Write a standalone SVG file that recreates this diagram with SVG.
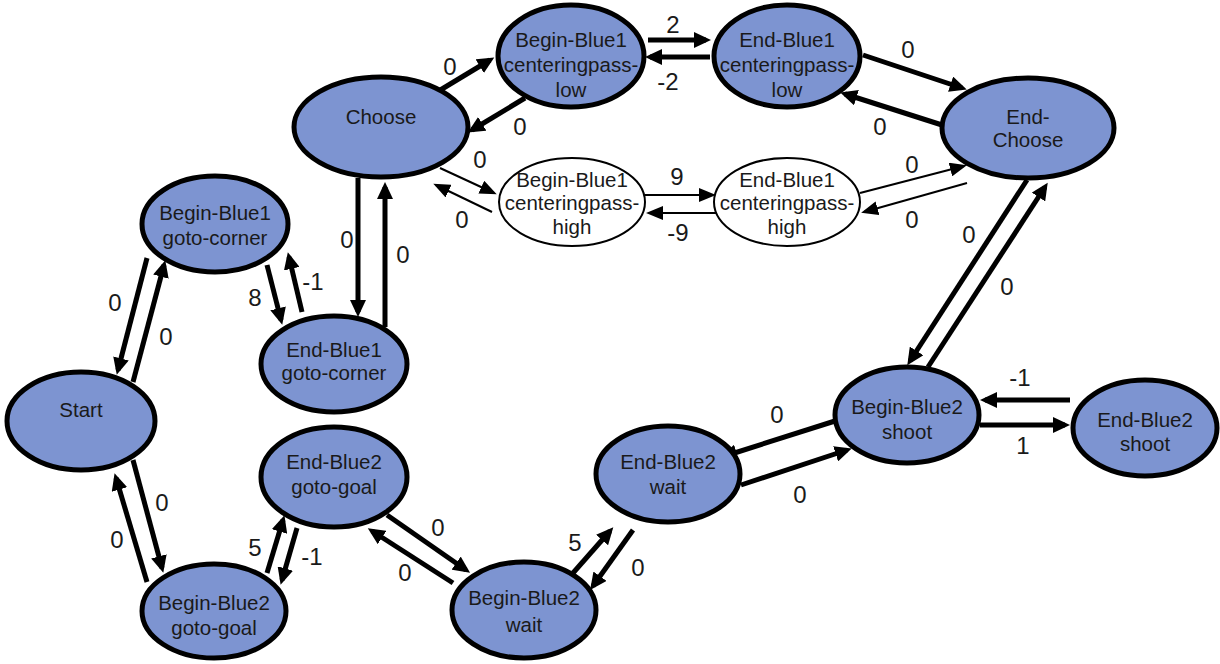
<svg xmlns="http://www.w3.org/2000/svg" width="1220" height="664" viewBox="0 0 1220 664">
  <style>
    .node ellipse { fill: #7d94d1; stroke: #000; stroke-width: 5; }
    .node.alt ellipse { fill: #fff; stroke-width: 2; }
    .node text { font-family: "Liberation Sans", Arial, sans-serif; font-size: 20.5px; fill: #1a1a1a; text-anchor: middle; }
    .edges line { stroke: #000; stroke-width: 5; fill: none; marker-end: url(#head); }
    .edges line.thin { stroke-width: 2; marker-end: url(#headThin); }
    .labels text { font-family: "Liberation Sans", Arial, sans-serif; font-size: 24px; fill: #1a1a1a; text-anchor: middle; }
  </style>
  <defs>
    <marker id="head" markerUnits="userSpaceOnUse" markerWidth="18" markerHeight="16" refX="12" refY="8" orient="auto">
      <path d="M0,0 L17,8 L0,16 z" fill="#000"/>
    </marker>
    <marker id="headThin" markerUnits="userSpaceOnUse" markerWidth="18" markerHeight="14" refX="14" refY="7" orient="auto">
      <path d="M0,0 L17,7 L0,14 z" fill="#000"/>
    </marker>
  </defs>
  <rect width="1220" height="664" fill="#fff"/>

  <!-- transitions -->
  <g id="connectors" class="edges">
    <line x1="437" y1="92" x2="490" y2="60"/>
    <line x1="525" y1="98" x2="472" y2="130"/>
    <line x1="648" y1="40" x2="706" y2="40"/>
    <line x1="710" y1="57" x2="650" y2="57"/>
    <line x1="863" y1="55" x2="962" y2="88"/>
    <line x1="942" y1="125" x2="845" y2="94"/>
    <line class="thin" x1="860" y1="193" x2="964" y2="166"/>
    <line class="thin" x1="967" y1="183" x2="864" y2="212"/>
    <line class="thin" x1="645" y1="195" x2="713" y2="195"/>
    <line class="thin" x1="717" y1="213" x2="649" y2="213"/>
    <line class="thin" x1="440" y1="168" x2="494" y2="193"/>
    <line class="thin" x1="492" y1="212" x2="436" y2="185"/>
    <line x1="358" y1="178" x2="358" y2="312"/>
    <line x1="385" y1="327" x2="385" y2="187"/>
    <line x1="267" y1="265" x2="281" y2="320"/>
    <line x1="302" y1="312" x2="289" y2="257"/>
    <line x1="147" y1="258" x2="118" y2="370"/>
    <line x1="133" y1="382" x2="164" y2="265"/>
    <line x1="133" y1="460" x2="162" y2="568"/>
    <line x1="147" y1="582" x2="116" y2="478"/>
    <line x1="267" y1="573" x2="283" y2="520"/>
    <line x1="297" y1="528" x2="282" y2="580"/>
    <line x1="387" y1="515" x2="466" y2="570"/>
    <line x1="453" y1="583" x2="372" y2="531"/>
    <line x1="573" y1="573" x2="610" y2="531"/>
    <line x1="633" y1="530" x2="593" y2="586"/>
    <line x1="741" y1="485" x2="847" y2="450"/>
    <line x1="835" y1="421" x2="725" y2="456"/>
    <line x1="980" y1="425" x2="1065" y2="425"/>
    <line x1="1070" y1="400" x2="985" y2="400"/>
    <line x1="1027" y1="180" x2="910" y2="361"/>
    <line x1="928" y1="367" x2="1045" y2="187"/>
  </g>

  <!-- transition weights -->
  <g id="edge-labels" class="labels">
    <text x="450" y="75">0</text>
    <text x="520" y="135">0</text>
    <text x="673" y="33">2</text>
    <text x="668" y="90">-2</text>
    <text x="908" y="58">0</text>
    <text x="880" y="135">0</text>
    <text x="912" y="173">0</text>
    <text x="912" y="228">0</text>
    <text x="677" y="185">9</text>
    <text x="678" y="241">-9</text>
    <text x="480" y="168">0</text>
    <text x="462" y="228">0</text>
    <text x="347" y="248">0</text>
    <text x="403" y="263">0</text>
    <text x="255" y="306">8</text>
    <text x="313" y="290">-1</text>
    <text x="115" y="311">0</text>
    <text x="166" y="345">0</text>
    <text x="162" y="511">0</text>
    <text x="117" y="548">0</text>
    <text x="255" y="556">5</text>
    <text x="312" y="565">-1</text>
    <text x="438" y="536">0</text>
    <text x="405" y="581">0</text>
    <text x="575" y="551">5</text>
    <text x="638" y="576">0</text>
    <text x="800" y="503">0</text>
    <text x="777" y="423">0</text>
    <text x="1023" y="454">1</text>
    <text x="1020" y="386">-1</text>
    <text x="969" y="243">0</text>
    <text x="1007" y="295">0</text>
  </g>

  <!-- states -->
  <g id="start" class="node">
    <ellipse cx="81" cy="421" rx="74" ry="49"/>
    <text x="81" y="417">Start</text>
  </g>
  <g id="begin-blue1-goto-corner" class="node">
    <ellipse cx="215" cy="224" rx="73" ry="48"/>
    <text x="215" y="220">Begin-Blue1</text>
    <text x="215" y="245">goto-corner</text>
  </g>
  <g id="end-blue1-goto-corner" class="node">
    <ellipse cx="334" cy="364" rx="73" ry="48"/>
    <text x="334" y="357">End-Blue1</text>
    <text x="334" y="380">goto-corner</text>
  </g>
  <g id="choose" class="node">
    <ellipse cx="381" cy="127" rx="87" ry="50"/>
    <text x="381" y="124">Choose</text>
  </g>
  <g id="begin-blue1-centeringpass-low" class="node">
    <ellipse cx="571" cy="56" rx="73" ry="51"/>
    <text x="571" y="47">Begin-Blue1</text>
    <text x="571" y="72">centeringpass-</text>
    <text x="571" y="97">low</text>
  </g>
  <g id="end-blue1-centeringpass-low" class="node">
    <ellipse cx="787" cy="56" rx="73" ry="51"/>
    <text x="787" y="47">End-Blue1</text>
    <text x="787" y="72">centeringpass-</text>
    <text x="787" y="97">low</text>
  </g>
  <g id="end-choose" class="node">
    <ellipse cx="1028" cy="128" rx="86" ry="50"/>
    <text x="1028" y="124">End-</text>
    <text x="1028" y="147">Choose</text>
  </g>
  <g id="begin-blue1-centeringpass-high" class="node alt">
    <ellipse cx="572" cy="202" rx="73" ry="44"/>
    <text x="572" y="187">Begin-Blue1</text>
    <text x="572" y="210">centeringpass-</text>
    <text x="572" y="234">high</text>
  </g>
  <g id="end-blue1-centeringpass-high" class="node alt">
    <ellipse cx="787" cy="202" rx="73" ry="44"/>
    <text x="787" y="187">End-Blue1</text>
    <text x="787" y="210">centeringpass-</text>
    <text x="787" y="234">high</text>
  </g>
  <g id="begin-blue2-shoot" class="node">
    <ellipse cx="907" cy="415" rx="72" ry="48"/>
    <text x="907" y="414">Begin-Blue2</text>
    <text x="907" y="439">shoot</text>
  </g>
  <g id="end-blue2-shoot" class="node">
    <ellipse cx="1145" cy="428" rx="72" ry="48"/>
    <text x="1145" y="427">End-Blue2</text>
    <text x="1145" y="451">shoot</text>
  </g>
  <g id="end-blue2-wait" class="node">
    <ellipse cx="668" cy="474" rx="72" ry="48"/>
    <text x="668" y="469">End-Blue2</text>
    <text x="668" y="494">wait</text>
  </g>
  <g id="begin-blue2-wait" class="node">
    <ellipse cx="524" cy="610" rx="72" ry="48"/>
    <text x="524" y="605">Begin-Blue2</text>
    <text x="524" y="632">wait</text>
  </g>
  <g id="begin-blue2-goto-goal" class="node">
    <ellipse cx="214" cy="611" rx="72" ry="47"/>
    <text x="214" y="610">Begin-Blue2</text>
    <text x="214" y="635">goto-goal</text>
  </g>
  <g id="end-blue2-goto-goal" class="node">
    <ellipse cx="334" cy="477" rx="73" ry="50"/>
    <text x="334" y="469">End-Blue2</text>
    <text x="334" y="494">goto-goal</text>
  </g>
</svg>
